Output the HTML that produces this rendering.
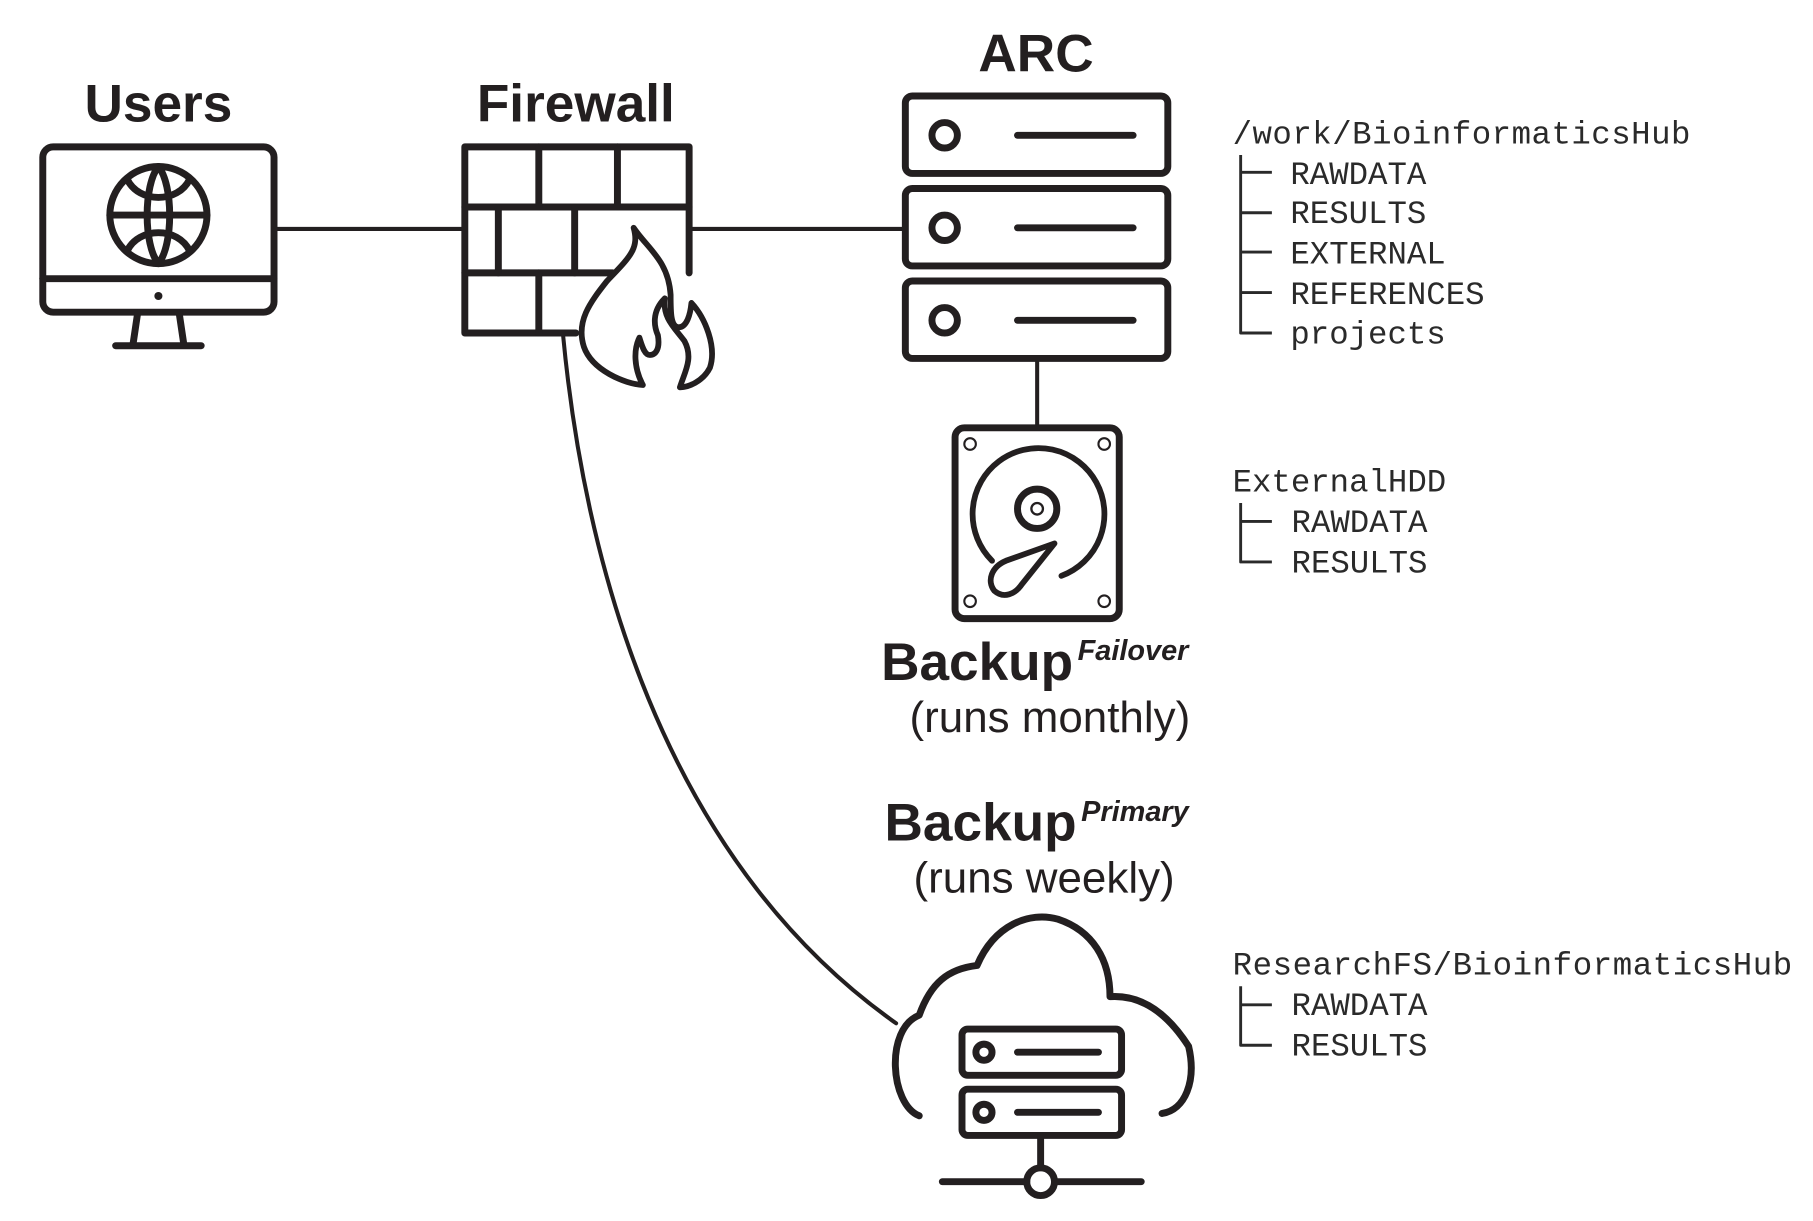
<!DOCTYPE html>
<html><head><meta charset="utf-8"><style>
html,body{margin:0;padding:0;background:#fff;}
svg{display:block;}
.b{font-family:"Liberation Sans",Arial,sans-serif;font-weight:bold;fill:#231f20;}
.r{font-family:"Liberation Sans",Arial,sans-serif;fill:#231f20;}
.m{font-family:"Liberation Mono","Courier New",monospace;fill:#2a2a2a;font-size:28px;}
</style></head><body>
<svg width="1813" height="1221" viewBox="0 0 1568 1056" preserveAspectRatio="none" xmlns="http://www.w3.org/2000/svg">
<g fill="none" stroke="#231f20" stroke-width="6" stroke-linecap="round" stroke-linejoin="round">
<line x1="237" y1="198" x2="402" y2="198" stroke-width="3.5"/>
<line x1="597" y1="198" x2="783" y2="198" stroke-width="3.5"/>
<line x1="897" y1="310" x2="897" y2="370" stroke-width="3.5"/>
<path d="M487,290 C505,480 570,740 775,885" stroke-width="3.5"/>
<rect x="37" y="127" width="200" height="143" rx="9"/>
<line x1="37" y1="241" x2="237" y2="241"/>
<line x1="119" y1="271" x2="115" y2="298"/>
<line x1="155" y1="271" x2="159" y2="298"/>
<line x1="100" y1="299" x2="174" y2="299"/>
<circle cx="137" cy="256" r="3.5" fill="#231f20" stroke="none"/>
<circle cx="137" cy="186" r="42"/>
<line x1="95" y1="186" x2="179" y2="186"/>
<path d="M137,144 C124,160 124,212 137,228 M137,144 C150,160 150,212 137,228"/>
<path d="M110,155 C120,176 154,176 164,155 M110,217 C120,196 154,196 164,217"/>
<path d="M498,288 H402 V127 H596 V236"/>
<line x1="402" y1="179" x2="596" y2="179"/>
<line x1="402" y1="236" x2="530" y2="236"/>
<line x1="466" y1="127" x2="466" y2="179"/>
<line x1="534" y1="127" x2="534" y2="179"/>
<line x1="431" y1="179" x2="431" y2="236"/>
<line x1="497" y1="179" x2="497" y2="236"/>
<line x1="466" y1="236" x2="466" y2="288"/>
<path d="M548,197 C560,215 578,225 580,255 C580,270 580,283 587,283 C594,283 597,272 598,262 C610,275 620,300 614,318 C608,330 595,335 588,335 C592,322 600,310 592,295 C583,283 573,275 575,258 C563,270 566,283 569,290 C571,302 567,307 562,307 C557,307 555,298 553,292 C548,302 548,318 556,333 C540,332 512,320 505,300 C498,278 510,262 525,243 C545,222 553,215 548,197 Z" stroke-width="5"/>
<rect x="783" y="83" width="227" height="67" rx="6"/>
<rect x="783" y="163" width="227" height="67" rx="6"/>
<rect x="783" y="243" width="227" height="67" rx="6"/>
<circle cx="817" cy="117" r="11"/><line x1="880" y1="117" x2="980" y2="117"/>
<circle cx="817" cy="197" r="11"/><line x1="880" y1="197" x2="980" y2="197"/>
<circle cx="817" cy="277" r="11"/><line x1="880" y1="277" x2="980" y2="277"/>
<rect x="826" y="370" width="142" height="165" rx="8"/>
<g stroke-width="1.8"><circle cx="839" cy="384" r="5"/><circle cx="955" cy="384" r="5"/><circle cx="839" cy="520" r="5"/><circle cx="955" cy="520" r="5"/></g>
<path d="M858,485 A57,57 0 1 1 918,498" stroke-width="5"/>
<circle cx="897" cy="440" r="17"/>
<circle cx="897" cy="440" r="5" stroke-width="2"/>
<path d="M912,470 L870,485 C858,490 853,502 860,511 C868,518 878,514 884,505 Z" stroke-width="5"/>
<path d="M795,965 C770,955 765,890 795,878 C805,850 820,838 845,835 C860,800 890,788 915,795 C945,805 960,830 960,862 C990,860 1012,880 1028,905 C1035,935 1025,960 1005,963"/>
<rect x="832" y="890" width="138" height="40" rx="5"/>
<rect x="832" y="942" width="138" height="40" rx="5"/>
<circle cx="851" cy="910" r="7"/><line x1="880" y1="910" x2="950" y2="910"/>
<circle cx="851" cy="962" r="7"/><line x1="880" y1="962" x2="950" y2="962"/>
<line x1="900" y1="982" x2="900" y2="1010"/>
<circle cx="900" cy="1022" r="12"/>
<line x1="815" y1="1022" x2="888" y2="1022"/>
<line x1="912" y1="1022" x2="987" y2="1022"/>
<g stroke="#2a2a2a" stroke-width="2.5" stroke-linecap="butt">
<path d="M1073,134 V288 H1100 M1073,149 H1100 M1073,184 H1100 M1073,218 H1100 M1073,253 H1100"/>
<path d="M1073,435 V486 H1100 M1073,451 H1100"/>
<path d="M1073,853 V904 H1100 M1073,869 H1100"/>
</g>
</g>
<text class="b" x="137" y="105" font-size="46" text-anchor="middle">Users</text>
<text class="b" x="498" y="105" font-size="46" text-anchor="middle">Firewall</text>
<text class="b" x="896" y="62" font-size="46" text-anchor="middle">ARC</text>
<text class="b" x="762" y="588" font-size="46">Backup</text>
<text class="b" x="932" y="571" font-size="25" font-style="italic">Failover</text>
<text class="r" x="908" y="633" font-size="38" text-anchor="middle">(runs monthly)</text>
<text class="b" x="765" y="727" font-size="46">Backup</text>
<text class="b" x="935" y="710" font-size="25" font-style="italic">Primary</text>
<text class="r" x="903" y="772" font-size="38" text-anchor="middle">(runs weekly)</text>
<g class="m">
<text x="1066" y="124" textLength="396">/work/BioinformaticsHub</text>
<text x="1116" y="159">RAWDATA</text>
<text x="1116" y="193">RESULTS</text>
<text x="1116" y="228">EXTERNAL</text>
<text x="1116" y="263">REFERENCES</text>
<text x="1116" y="297">projects</text>
<text x="1066" y="425">ExternalHDD</text>
<text x="1117" y="460">RAWDATA</text>
<text x="1117" y="495">RESULTS</text>
<text x="1066" y="843" textLength="484">ResearchFS/BioinformaticsHub</text>
<text x="1117" y="878">RAWDATA</text>
<text x="1117" y="913">RESULTS</text>
</g>
</svg>
</body></html>
